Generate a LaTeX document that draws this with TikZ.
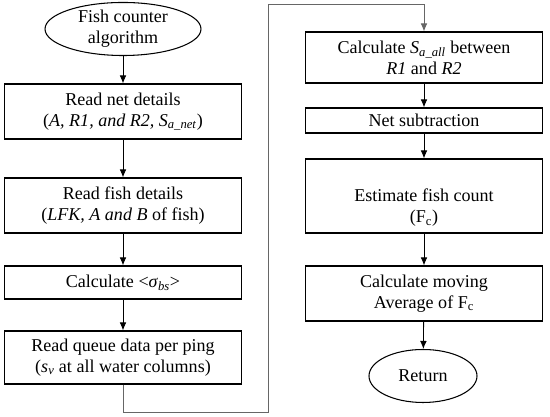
\documentclass[tikz,border=0pt]{standalone}
\usepackage{fontspec}
\setmainfont{Liberation Serif}
\usepackage{tikz}
\usetikzlibrary{calc,shapes,arrows.meta}
\tikzstyle{every picture}=[->,>={Latex[length=2.4mm,width=2mm]}]
\tikzset{
  stepbox/.style={rectangle, draw, line width=1pt, minimum width=7.1cm, align=center, inner sep=0pt},
  endnode/.style={ellipse, draw, line width=0.9pt, align=center, inner sep=0pt},
  flow/.style={->, draw, line width=0.7pt},
}

\begin{document}
\begin{tikzpicture}
{
\useasboundingbox (0,0) rectangle (16.5,12.51);
\begin{scope}[every node/.style={font=\fontsize{15.4}{18}\selectfont}]

    \node[endnode, minimum width=4.68cm, minimum height=1.56cm](start) at (3.69, 11.64) {Fish counter\\algorithm};
    \node[stepbox, minimum height=1.65cm](net) at (3.69, 9.165) {Read net details\\(\textit{A, R1, and R2, S}\textsubscript{\textit{a\_net}})};
    \node[stepbox, minimum height=1.65cm](fish) at (3.69, 6.345) {Read fish details\\(\textit{LFK, A and B} of fish)};
    \node[stepbox, minimum height=0.99cm](sigma) at (3.69, 4.035) {Calculate <\textit{σ}\textsubscript{\textit{bs}}>};
    \node[stepbox, minimum height=1.59cm](queue) at (3.69, 1.785) {Read queue data per ping\\(\textit{s}\textsubscript{\textit{v}} at all water columns)};

    \node[stepbox, minimum height=1.53cm](sall) at (12.72, 10.785) {Calculate \textit{S}\textsubscript{\textit{a\_all}} between\\\textit{R1} and \textit{R2}};
    \node[stepbox, minimum height=0.75cm](sub) at (12.72, 8.895) {Net subtraction};
    \node[stepbox, minimum height=2.22cm](count) at (12.72, 6.63) {\rule{0pt}{1.1cm}Estimate fish count\\(F\textsubscript{c})};
    \node[stepbox, minimum height=1.65cm](avg) at (12.72, 3.705) {Calculate moving\\Average of F\textsubscript{c}};
    \node[endnode, minimum width=3.24cm, minimum height=1.59cm](ret) at (12.69, 1.23) {Return};
\end{scope}

\coordinate(b1) at (3.69, 0.15);
\coordinate(b2) at (8.04, 0.15);
\coordinate(t1) at (8.04, 12.39);
\coordinate(t2) at (12.72, 12.39);

\path[flow] (start) -- (net);
\path[flow] (net) -- (fish);
\path[flow] (fish) -- (sigma);
\path[flow] (sigma) -- (queue);
\path[flow, draw=black!60] (queue) -- (b1) -- (b2) -- (t1) -- (t2) -- (sall);
\path[flow] (sall) -- (sub);
\path[flow] (sub) -- (count);
\path[flow] (count) -- (avg);
\path[flow] (avg) -- (ret);

}
\end{tikzpicture}
\end{document}
